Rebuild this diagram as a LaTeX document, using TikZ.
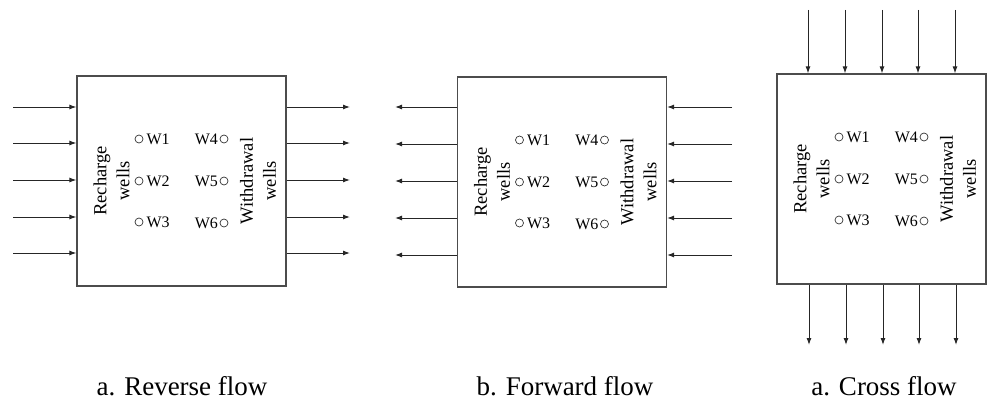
\documentclass[tikz,border=0pt]{standalone}
\usepackage{fontspec}
\setmainfont{Liberation Serif}
\usetikzlibrary{arrows.meta}
\tikzset{
  flowbox/.style={draw=black!70, line width=1.2pt, minimum width=209pt, minimum height=210pt, inner sep=0pt},
  flowarrow/.style={draw=black!85, line width=1pt, -{Latex[length=7pt,width=5pt]}},
  wellmark/.style={circle, draw=black!80, line width=0.7pt, minimum size=8pt, inner sep=0pt},
  welltxt/.style={font=\fontsize{16}{18}\selectfont, inner sep=0pt},
  sidetxt/.style={font=\fontsize{18.5}{23}\selectfont, rotate=90, align=center, inner sep=0pt},
  captxt/.style={font=\fontsize{27}{30}\selectfont, anchor=base, inner sep=0pt},
}
\newcommand\wellpanel[3]{%
  \begin{scope}[shift={(#2,#3)}]
    \node[flowbox] (#1box) at (181.5,181) {};
    \node[wellmark] (#1c1) at (139,139) {};
    \node[welltxt, anchor=west] (#1w1) at ([xshift=3pt]#1c1.east) {W1};
    \node[wellmark] (#1c2) at (139,181) {};
    \node[welltxt, anchor=west] (#1w2) at ([xshift=3pt]#1c2.east) {W2};
    \node[wellmark] (#1c3) at (139,222) {};
    \node[welltxt, anchor=west] (#1w3) at ([xshift=3pt]#1c3.east) {W3};
    \node[wellmark] (#1c4) at (224,139) {};
    \node[welltxt, anchor=east] (#1w4) at ([xshift=-1.5pt]#1c4.west) {W4};
    \node[wellmark] (#1c5) at (224,181) {};
    \node[welltxt, anchor=east] (#1w5) at ([xshift=-1.5pt]#1c5.west) {W5};
    \node[wellmark] (#1c6) at (224,223) {};
    \node[welltxt, anchor=east] (#1w6) at ([xshift=-1.5pt]#1c6.west) {W6};
    \node[sidetxt] (#1rech) at (111.5,181) {Recharge\\wells};
    \node[sidetxt] (#1with) at (258,181) {Withdrawal\\wells};
  \end{scope}}
\begin{document}
\begin{tikzpicture}[x=1pt, y=-1pt]
  \useasboundingbox (0,0) rectangle (988,404);
  % panel a: reverse flow
  \wellpanel{pa}{0}{0}
  \foreach \yy [count=\i] in {107,143,180,217,253} {
    \coordinate (pain\i) at (13,\yy);
    \draw[flowarrow] (pain\i) -- (pain\i -| pabox.west);
    \coordinate (paout\i) at (350,\yy);
    \draw[flowarrow] (paout\i -| pabox.east) -- (paout\i);
  }
  \node[captxt] (capa) at (182,395) {a. Reverse flow};
  % panel b: forward flow
  \wellpanel{pb}{380.5}{1}
  \foreach \yy [count=\i] in {107,144,181,218,255} {
    \coordinate (pbout\i) at (395,\yy);
    \draw[flowarrow] (pbout\i -| pbbox.west) -- (pbout\i);
    \coordinate (pbin\i) at (732,\yy);
    \draw[flowarrow] (pbin\i) -- (pbin\i -| pbbox.east);
  }
  \node[captxt] (capb) at (565,395) {b. Forward flow};
  % panel c: cross flow
  \wellpanel{pc}{700}{-2}
  \foreach \xx [count=\i] in {808,845,882,918,955} {
    \coordinate (pcin\i) at (\xx,10);
    \draw[flowarrow] (pcin\i) -- (pcin\i |- pcbox.north);
    \coordinate (pcout\i) at (\xx+1,345);
    \draw[flowarrow] (pcout\i |- pcbox.south) -- (pcout\i);
  }
  \node[captxt] (capc) at (884,395) {a. Cross flow};
\end{tikzpicture}
\end{document}
